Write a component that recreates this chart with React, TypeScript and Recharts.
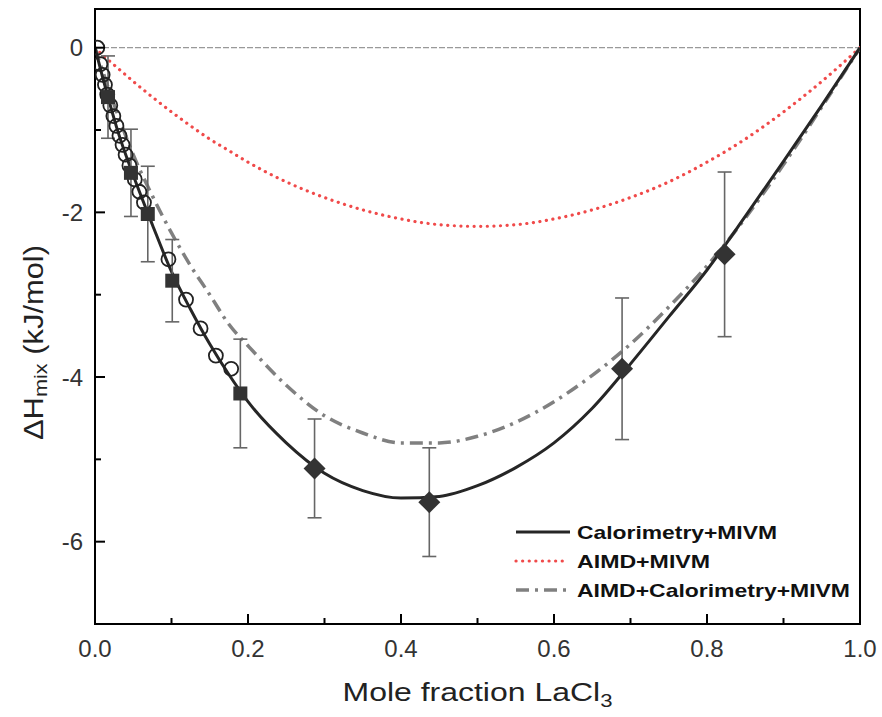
import React from 'react';
import {
  ComposedChart,
  Line,
  Scatter,
  XAxis,
  YAxis,
  ErrorBar,
  ReferenceLine,
  ReferenceArea,
  Legend,
} from 'recharts';

// ---- data ----
const curveX = [0, 0.01, 0.02, 0.03, 0.05, 0.075, 0.1, 0.125, 0.15, 0.175, 0.2, 0.25, 0.3, 0.35, 0.4, 0.45, 0.5, 0.55, 0.6, 0.65, 0.7, 0.75, 0.8, 0.85, 0.9, 0.95, 1.0];
const calorimetryMIVM = [0, -0.36, -0.7, -1.02, -1.55, -2.15, -2.72, -3.18, -3.6, -3.97, -4.3, -4.8, -5.17, -5.38, -5.47, -5.45, -5.32, -5.1, -4.8, -4.38, -3.84, -3.27, -2.7, -2.05, -1.38, -0.7, 0];
const aimdMIVM = [0, -0.09, -0.17, -0.25, -0.41, -0.6, -0.78, -0.95, -1.11, -1.25, -1.39, -1.63, -1.82, -1.97, -2.08, -2.15, -2.17, -2.15, -2.08, -1.97, -1.82, -1.63, -1.39, -1.11, -0.78, -0.41, 0];
const aimdCalorimetryMIVM = [0, -0.28, -0.56, -0.82, -1.3, -1.8, -2.25, -2.65, -3.0, -3.36, -3.62, -4.1, -4.47, -4.68, -4.8, -4.8, -4.72, -4.55, -4.3, -3.98, -3.6, -3.15, -2.65, -2.07, -1.42, -0.72, 0];

const circleX = [0.003, 0.007, 0.01, 0.013, 0.016, 0.02, 0.024, 0.028, 0.032, 0.036, 0.04, 0.045, 0.052, 0.058, 0.064, 0.096, 0.119, 0.138, 0.158, 0.178];
const circleY = [0.0, -0.2, -0.33, -0.45, -0.57, -0.7, -0.83, -0.95, -1.07, -1.18, -1.3, -1.43, -1.6, -1.75, -1.88, -2.57, -3.06, -3.41, -3.74, -3.9];

const squareX = [0.017, 0.047, 0.069, 0.101, 0.19];
const squareY = [-0.6, -1.52, -2.02, -2.83, -4.2];
const squareErr = [0.5, 0.53, 0.58, 0.5, 0.66];

const diamondX = [0.287, 0.437, 0.689, 0.823];
const diamondY = [-5.11, -5.52, -3.9, -2.51];
const diamondErr = [0.6, 0.66, 0.86, 1.0];

const xTicks = [0, 0.1, 0.2, 0.3, 0.4, 0.5, 0.6, 0.7, 0.8, 0.9, 1.0];
const yTicks = [-7, -6, -5, -4, -3, -2, -1, 0];

const legendItems = [
  { name: 'Calorimetry+MIVM', color: '#262626', dash: undefined as string | undefined, width: 3, textLen: 200, lineLen: 54 },
  { name: 'AIMD+MIVM', color: '#f04a4a', dash: '0.1 6.5', width: 3.2, textLen: 133, lineLen: 47 },
  { name: 'AIMD+Calorimetry+MIVM', color: '#808080', dash: '13 6 3 6', width: 3.5, textLen: 273, lineLen: 54 },
];

// ---- built tables ----
const curveTable = curveX.map((x, i) => ({
  x,
  cal: calorimetryMIVM[i],
  aimd: aimdMIVM[i],
  both: aimdCalorimetryMIVM[i],
}));
const circles = circleX.map((x, i) => ({ x, y: circleY[i] }));
const squares = squareX.map((x, i) => ({ x, y: squareY[i], err: squareErr[i] }));
const diamonds = diamondX.map((x, i) => ({ x, y: diamondY[i], err: diamondErr[i] }));

const FONT = '"Liberation Sans", Arial, sans-serif';
const X_TICK_MARGIN = 16;
const Y_TICK_MARGIN = 12;

const XTick = (props: any) => {
  const { x, y, payload } = props;
  const v = payload.value as number;
  const major = Math.round(v * 10) % 2 === 0;
  const axisY = y - X_TICK_MARGIN;
  return (
    <g>
      {v > 0.001 && v < 0.999 && (
        <line x1={x} x2={x} y1={axisY} y2={axisY - (major ? 10 : 6)} stroke="#000" strokeWidth={2} />
      )}
      {major && (
        <text x={x} y={axisY + 33} textAnchor="middle" fontSize={24} fill="#333" fontFamily={FONT}>
          {v.toFixed(1)}
        </text>
      )}
    </g>
  );
};

const YTick = (props: any) => {
  const { x, y, payload } = props;
  const v = payload.value as number;
  const major = v % 2 === 0;
  const axisX = x + Y_TICK_MARGIN;
  return (
    <g>
      {v > -7 && v < 0.4 && (
        <line x1={axisX} x2={axisX + (major ? 10 : 6)} y1={y} y2={y} stroke="#000" strokeWidth={2} />
      )}
      {major && (
        <text x={axisX - 12} y={y} dy="0.36em" textAnchor="end" fontSize={24} fill="#333" fontFamily={FONT}>
          {String(v)}
        </text>
      )}
    </g>
  );
};

const XLabel = (props: any) => {
  const vb = props.viewBox || { x: 95, y: 624, width: 765, height: 93 };
  const cx = vb.x + vb.width / 2;
  const by = vb.y + 77;
  return (
    <text x={cx} y={by} textAnchor="middle" fontSize={26} fill="#222" fontFamily={FONT} textLength={270} lengthAdjust="spacingAndGlyphs">
      Mole fraction LaCl
      <tspan fontSize={18} dy={6}>3</tspan>
    </text>
  );
};

const YLabel = (props: any) => {
  const vb = props.viewBox || { x: 0, y: 9, width: 95, height: 615 };
  const cx = vb.x + 34;
  const cy = vb.y + vb.height / 2 + 26;
  return (
    <text
      x={cx}
      y={cy}
      transform={`rotate(-90, ${cx}, ${cy})`}
      textAnchor="middle"
      dominantBaseline="central"
      fontSize={27}
      fill="#222"
      fontFamily={FONT}
      textLength={195}
      lengthAdjust="spacingAndGlyphs"
    >
      ΔH
      <tspan fontSize={19} dy={6}>mix</tspan>
      <tspan dy={-6}> (kJ/mol)</tspan>
    </text>
  );
};

const LegendContent = () => (
  <svg width={360} height={92} style={{ display: 'block' }}>
    {legendItems.map((it, i) => {
      const cy = 17 + i * 29;
      return (
        <g key={it.name}>
          <line
            x1={6}
            x2={6 + it.lineLen}
            y1={cy}
            y2={cy}
            stroke={it.color}
            strokeWidth={it.width}
            strokeDasharray={it.dash}
            strokeLinecap={it.dash && it.dash.startsWith('0.1') ? 'round' : 'butt'}
          />
          <text
            x={67}
            y={cy}
            dy="0.36em"
            fontSize={19}
            fontWeight="bold"
            fill="#111"
            fontFamily={FONT}
            textLength={it.textLen}
            lengthAdjust="spacingAndGlyphs"
          >
            {it.name}
          </text>
        </g>
      );
    })}
  </svg>
);

const SquareShape = (p: any) => (
  <rect x={p.cx - 7} y={p.cy - 7} width={14} height={14} fill="#333" />
);
const DiamondShape = (p: any) => (
  <polygon
    points={`${p.cx},${p.cy - 11} ${p.cx + 11},${p.cy} ${p.cx},${p.cy + 11} ${p.cx - 11},${p.cy}`}
    fill="#333"
  />
);
const CircleShape = (p: any) => (
  <circle cx={p.cx} cy={p.cy} r={7} fill="none" stroke="#222" strokeWidth={1.8} />
);

export default function App() {
  return (
    <div style={{ position: 'absolute', left: 0, top: 0, width: 882, height: 717, background: '#fff' }}>
      <ComposedChart
        width={882}
        height={717}
        data={curveTable}
        margin={{ top: 9, right: 22, bottom: 0, left: 0 }}
      >
        <XAxis
          dataKey="x"
          type="number"
          domain={[0, 1]}
          ticks={xTicks}
          interval={0}
          height={93}
          tickSize={0}
          tickMargin={X_TICK_MARGIN}
          tickLine={false}
          tick={<XTick />}
          axisLine={{ stroke: '#000', strokeWidth: 2 }}
          label={<XLabel />}
          allowDataOverflow
        />
        <YAxis
          type="number"
          domain={[-7, 0.47]}
          ticks={yTicks}
          interval={0}
          width={95}
          tickSize={0}
          tickMargin={Y_TICK_MARGIN}
          tickLine={false}
          tick={<YTick />}
          axisLine={{ stroke: '#000', strokeWidth: 2 }}
          label={<YLabel />}
          allowDataOverflow
        />
        <ReferenceArea x1={0} x2={1} y1={-7} y2={0.47} fill="none" stroke="#000" strokeWidth={2} ifOverflow="visible" />
        <ReferenceLine y={0} stroke="#999" strokeWidth={1.2} strokeDasharray="6 2" />
        <Line
          dataKey="aimd"
          type="monotone"
          stroke="#f04a4a"
          strokeWidth={3.2}
          strokeDasharray="0.1 6.5"
          strokeLinecap="round"
          dot={false}
          activeDot={false}
          isAnimationActive={false}
        />
        <Line
          dataKey="both"
          type="monotone"
          stroke="#808080"
          strokeWidth={3.5}
          strokeDasharray="13 6 3 6"
          dot={false}
          activeDot={false}
          isAnimationActive={false}
        />
        <Line
          dataKey="cal"
          type="monotone"
          stroke="#262626"
          strokeWidth={3}
          dot={false}
          activeDot={false}
          isAnimationActive={false}
        />
        <Scatter data={circles} dataKey="y" shape={CircleShape} isAnimationActive={false} />
        <Scatter data={squares} dataKey="y" shape={SquareShape} isAnimationActive={false}>
          <ErrorBar dataKey="err" direction="y" width={7} stroke="#666" strokeWidth={1.6} />
        </Scatter>
        <Scatter data={diamonds} dataKey="y" shape={DiamondShape} isAnimationActive={false}>
          <ErrorBar dataKey="err" direction="y" width={7} stroke="#666" strokeWidth={1.6} />
        </Scatter>
        <Legend
          layout="vertical"
          align="center"
          verticalAlign="middle"
          content={<LegendContent />}
          wrapperStyle={{ left: 510, top: 515, width: 360, height: 92 }}
        />
      </ComposedChart>
    </div>
  );
}
